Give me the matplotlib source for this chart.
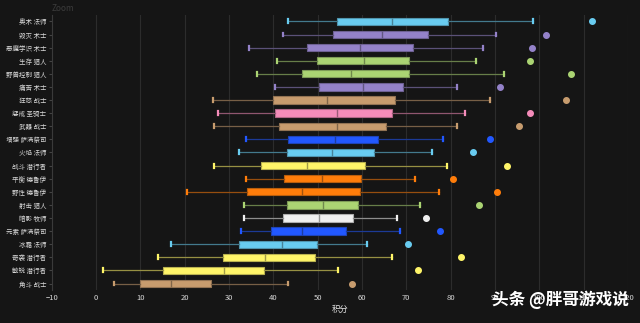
import matplotlib.pyplot as plt
import matplotlib.colors as mcolors

plt.rcParams["font.family"] = ["Noto Sans CJK SC", "DejaVu Sans"]

# data, top row first
specs = [
    "奥术 法师", "毁灭 术士", "恶魔学识 术士", "生存 猎人", "野兽控制 猎人",
    "痛苦 术士", "狂怒 战士", "惩戒 圣骑士", "武器 战士", "增强 萨满祭司",
    "火焰 法师", "战斗 潜行者", "平衡 德鲁伊", "野性 德鲁伊", "射击 猎人",
    "暗影 牧师", "元素 萨满祭司", "冰霜 法师", "奇袭 潜行者", "敏锐 潜行者",
    "角斗 战士",
]
classes = [
    "mage", "warlock", "warlock", "hunter", "hunter",
    "warlock", "warrior", "paladin", "warrior", "shaman",
    "mage", "rogue", "druid", "druid", "hunter",
    "priest", "shaman", "mage", "rogue", "rogue",
    "warrior",
]
whis_low = [43.4, 42.1, 34.5, 40.8, 36.2, 40.4, 26.4, 27.6, 26.5, 33.9,
            32.2, 26.5, 33.9, 20.5, 33.4, 33.4, 32.8, 17.0, 14.0, 1.5, 4.0]
q1 = [54.4, 53.4, 47.5, 49.9, 46.5, 50.2, 39.9, 40.3, 41.3, 43.3,
      43.1, 37.3, 42.4, 34.0, 43.0, 42.2, 39.4, 32.2, 28.6, 15.1, 9.8]
median = [66.7, 64.5, 59.6, 60.5, 57.5, 60.3, 52.0, 54.4, 54.4, 53.9,
          53.2, 47.5, 51.0, 46.5, 51.3, 50.2, 46.5, 41.9, 38.2, 28.8, 16.9]
q3 = [79.3, 74.8, 71.6, 70.7, 70.7, 69.2, 67.4, 66.7, 65.5, 63.7,
      62.6, 60.6, 59.7, 59.5, 59.2, 58.0, 56.5, 49.9, 49.5, 37.9, 25.9]
whis_high = [98.6, 90.3, 87.4, 85.7, 92.1, 81.5, 88.8, 83.3, 81.5, 78.3,
             75.8, 79.2, 72.0, 77.4, 73.1, 67.8, 68.6, 61.1, 66.7, 54.5, 43.3]
outliers = [111.8, 101.5, 98.4, 98.0, 107.2, 91.2, 106.0, 97.9, 95.4, 88.8,
            85.1, 92.7, 80.6, 90.4, 86.3, 74.4, 77.7, 70.3, 82.4, 72.7, 57.8]

class_colors = {
    "mage": "#69CCF0", "warlock": "#9482C9", "hunter": "#ABD473",
    "warrior": "#C79C6E", "paladin": "#F58CBA", "shaman": "#2258FF",
    "rogue": "#FFF569", "druid": "#FF7D0A", "priest": "#F0F0F0",
}

BG = "#151515"


def blend(c, amount):
    a = mcolors.to_rgb(c)
    b = mcolors.to_rgb(BG)
    return tuple(b[i] + (a[i] - b[i]) * amount for i in range(3))


fig = plt.figure(figsize=(6.4, 3.23), dpi=100, facecolor=BG)
ax = fig.add_axes([0.081, 0.102, 0.9, 0.852], facecolor=BG)

for i in range(len(specs)):
    col = class_colors[classes[i]]
    stats = [{
        "whislo": whis_low[i], "q1": q1[i], "med": median[i],
        "q3": q3[i], "whishi": whis_high[i], "fliers": [outliers[i]],
    }]
    ax.bxp(
        stats, positions=[i], vert=False, widths=0.56, patch_artist=True,
        capwidths=0.3,
        boxprops=dict(facecolor=col, edgecolor=blend(col, 0.7), linewidth=0.8),
        medianprops=dict(color=blend(col, 0.6), linewidth=1.0),
        whiskerprops=dict(color=blend(col, 0.55), linewidth=0.9),
        capprops=dict(color=col, linewidth=1.6),
        flierprops=dict(marker="o", markersize=4, markerfacecolor=col,
                        markeredgecolor=col),
        zorder=3,
    )

ax.set_ylim(len(specs) - 0.5, -0.5)
ax.set_yticks(range(len(specs)))
ax.set_yticklabels(specs, fontsize=4.7)
ax.set_xlim(-10, 120)
ax.set_xticks(range(-10, 121, 10))
ax.tick_params(axis="x", colors="#d8d8d8", labelsize=5.5, length=0, pad=3)
ax.tick_params(axis="y", colors="#d8d8d8", length=2, pad=2)
ax.tick_params(axis="y", which="major", color="#444444")
ax.grid(axis="x", color="#2c2c2c", linewidth=0.8, zorder=0)
ax.set_axisbelow(True)
for side in ["top", "right", "bottom"]:
    ax.spines[side].set_visible(False)
ax.spines["left"].set_color("#3a3a3a")
ax.set_xlabel("积分", color="#e8e8e8", fontsize=6, labelpad=2)

fig.text(0.081, 0.975, "Zoom", color="#3c3c3c", fontsize=6, va="center")
fig.text(0.982, 0.072, "头条 @胖哥游戏说", color="white", fontsize=12,
         ha="right", va="center", fontweight="bold")

fig.savefig("out.png", dpi=100, facecolor=BG)
